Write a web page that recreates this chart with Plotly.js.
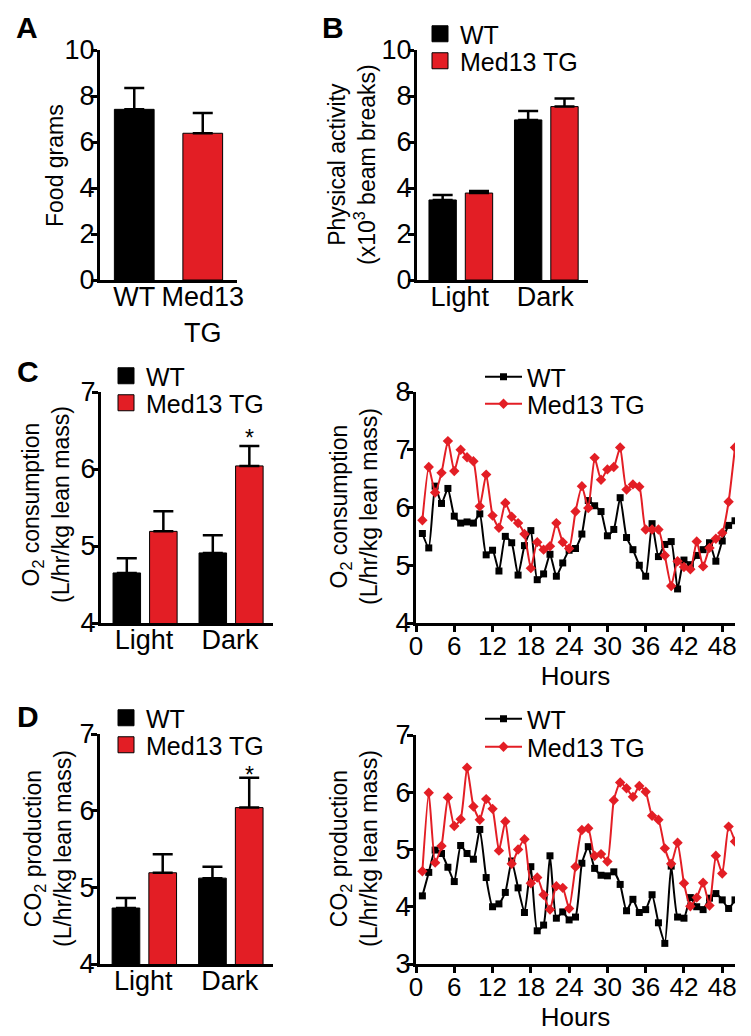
<!DOCTYPE html>
<html>
<head>
<meta charset="utf-8">
<script src="https://cdn.plot.ly/plotly-3.0.1.min.js"></script>
<style>
  html, body { margin: 0; padding: 0; background: #fff; }
  #fig { width: 751px; height: 1036px; }
</style>
</head>
<body>
<div id="fig"></div>
<script>
// groups and colours
const groups = ["WT", "Med13 TG"];
const red = "#e31e25";

// A: food intake
const foodCats = ["WT", "Med13<br>TG"];
const foodMean = [7.42, 6.38];
const foodErr = [0.93, 0.88];

// B: physical activity (x10^3 beam breaks)
const periods = ["Light", "Dark"];
const actWT = [3.48, 6.96];
const actWTErr = [0.22, 0.39];
const actTG = [3.78, 7.54];
const actTGErr = [0.09, 0.35];

// C: O2 consumption bars
const o2WT = [4.65, 4.91];
const o2WTErr = [0.19, 0.23];
const o2TG = [5.19, 6.04];
const o2TGErr = [0.26, 0.26];

// D: CO2 production bars
const co2WT = [4.73, 5.12];
const co2WTErr = [0.13, 0.15];
const co2TG = [5.19, 6.04];
const co2TGErr = [0.24, 0.39];

// hourly traces
const hours = [1, 2, 3, 4, 5, 6, 7, 8, 9, 10, 11, 12, 13, 14, 15, 16, 17, 18, 19, 20,
  21, 22, 23, 24, 25, 26, 27, 28, 29, 30, 31, 32, 33, 34, 35, 36, 37, 38, 39, 40,
  41, 42, 43, 44, 45, 46, 47, 48, 49, 50];

const o2HourWT = [5.55, 5.30, 6.37, 6.07, 6.33, 5.85, 5.73, 5.75, 5.73, 5.89,
  5.18, 5.26, 4.90, 5.50, 5.39, 4.83, 5.34, 5.60, 4.75, 4.85,
  5.19, 4.81, 5.04, 5.26, 5.29, 5.54, 6.12, 6.03, 5.93, 5.51,
  5.62, 6.17, 5.48, 5.27, 5.00, 4.81, 5.72, 5.15, 5.36, 5.41,
  4.59, 5.09, 5.01, 5.17, 5.27, 5.39, 5.07, 5.42, 5.69, 5.77];
const o2HourTG = [5.78, 6.70, 6.26, 6.60, 7.15, 6.63, 7.00, 6.87, 6.80, 6.02,
  6.57, 5.86, 5.65, 6.08, 5.84, 5.73, 5.54, 4.95, 5.40, 5.27,
  5.33, 5.73, 5.40, 5.29, 5.93, 6.37, 5.99, 6.86, 6.48, 6.66,
  6.70, 7.04, 6.31, 6.40, 6.36, 5.62, 5.62, 5.62, 5.17, 4.64,
  5.07, 4.97, 4.93, 5.41, 4.98, 5.30, 5.46, 5.56, 6.10, 7.04];

const co2HourWT = [4.19, 4.60, 4.99, 4.93, 4.69, 4.44, 5.07, 4.93, 4.83, 5.35,
  4.51, 4.00, 4.05, 4.25, 4.80, 4.33, 3.90, 4.70, 3.58, 3.68,
  4.89, 3.80, 3.91, 3.77, 3.82, 4.76, 5.05, 4.67, 4.55, 4.54,
  4.61, 4.39, 3.93, 4.13, 3.90, 3.95, 4.21, 3.72, 3.36, 4.71,
  3.82, 3.80, 4.16, 4.00, 3.95, 4.15, 4.23, 4.12, 3.97, 4.12];
const co2HourTG = [4.62, 5.99, 4.77, 5.06, 5.91, 5.41, 5.53, 6.43, 5.75, 5.52,
  5.88, 5.71, 4.98, 5.49, 4.75, 5.00, 5.18, 4.41, 4.51, 4.21,
  3.95, 4.36, 4.33, 3.97, 4.70, 5.34, 5.37, 4.89, 4.92, 4.79,
  5.86, 6.17, 6.07, 5.92, 6.11, 6.01, 5.59, 5.52, 5.02, 4.75,
  5.12, 4.41, 4.01, 4.16, 4.42, 4.02, 4.89, 4.58, 5.40, 5.14];

const hourTicks = [0, 6, 12, 18, 24, 30, 36, 42, 48];

// page geometry helpers (pixel -> paper)
const W = 751, H = 1036;
const px = v => v / W;
const py = v => 1 - v / H;

const FONT = "Liberation Sans, Arial, Helvetica, sans-serif";

function errBar(arr) {
  return {
    type: "data", array: arr, arrayminus: arr.map(() => 0), symmetric: false,
    color: "black", thickness: 2.5, width: 10
  };
}

function barPair(wt, wtErr, tg, tgErr, xa, ya) {
  return [
    {
      x: periods, y: wt, type: "bar", xaxis: xa, yaxis: ya, showlegend: false,
      offset: -0.36, width: 0.32,
      marker: { color: "black", line: { color: "black", width: 1 } },
      error_y: errBar(wtErr)
    },
    {
      x: periods, y: tg, type: "bar", xaxis: xa, yaxis: ya, showlegend: false,
      offset: 0.065, width: 0.32,
      marker: { color: red, line: { color: "black", width: 1 } },
      error_y: errBar(tgErr)
    }
  ];
}

// legend-only swatches for the bar panels, one legend box per entry
function swatches(xa, ya, legWT, legTG) {
  return [
    {
      x: [null], y: [null], type: "scatter", mode: "markers", name: groups[0],
      xaxis: xa, yaxis: ya, legend: legWT,
      marker: { symbol: "square", size: 17, color: "black", line: { color: "black", width: 1 } }
    },
    {
      x: [null], y: [null], type: "scatter", mode: "markers", name: groups[1],
      xaxis: xa, yaxis: ya, legend: legTG,
      marker: { symbol: "square", size: 17, color: red, line: { color: "black", width: 1 } }
    }
  ];
}

function hourLines(wt, tg, xa, ya, legWT, legTG) {
  return [
    {
      x: hours, y: wt, type: "scatter", mode: "lines+markers", name: groups[0],
      xaxis: xa, yaxis: ya, legend: legWT,
      line: { color: "black", width: 2, shape: "spline", smoothing: 0.5 },
      marker: { symbol: "square", size: 7, color: "black" }
    },
    {
      x: hours, y: tg, type: "scatter", mode: "lines+markers", name: groups[1],
      xaxis: xa, yaxis: ya, legend: legTG,
      line: { color: red, width: 2, shape: "spline", smoothing: 0.5 },
      marker: { symbol: "diamond", size: 8, color: red }
    }
  ];
}

const data = [
  {
    x: foodCats, y: foodMean, type: "bar", xaxis: "x", yaxis: "y", showlegend: false,
    width: 0.58,
    marker: { color: ["black", red], line: { color: "black", width: 1 } },
    error_y: errBar(foodErr)
  },
  ...barPair(actWT, actWTErr, actTG, actTGErr, "x2", "y2"),
  ...swatches("x2", "y2", "legend", "legend2"),
  ...barPair(o2WT, o2WTErr, o2TG, o2TGErr, "x3", "y3"),
  ...swatches("x3", "y3", "legend3", "legend4"),
  ...hourLines(o2HourWT, o2HourTG, "x4", "y4", "legend5", "legend6"),
  ...barPair(co2WT, co2WTErr, co2TG, co2TGErr, "x5", "y5"),
  ...swatches("x5", "y5", "legend7", "legend8"),
  ...hourLines(co2HourWT, co2HourTG, "x6", "y6", "legend9", "legend10")
];

const yTickFont = { family: FONT, size: 27, color: "black" };
const catFont = { family: FONT, size: 27, color: "black" };
const hourFont = { family: FONT, size: 26, color: "black" };

function catAxis(x0, x1, anchor) {
  return {
    domain: [px(x0), px(x1)], anchor: anchor, range: [-0.5, 1.5],
    showline: true, linewidth: 3, linecolor: "black", ticks: "",
    ticklabelstandoff: -9,
    showgrid: false, zeroline: false, tickfont: catFont
  };
}

function hourAxis(x0, x1, anchor, title) {
  return {
    domain: [px(x0), px(x1)], anchor: anchor, range: [0, 50],
    tickvals: hourTicks, showline: true, linewidth: 3, linecolor: "black",
    ticks: "outside", ticklen: 6, tickwidth: 3, tickcolor: "black",
    ticklabelstandoff: -8,
    showgrid: false, zeroline: false, tickfont: hourFont,
    title: { text: title, font: { family: FONT, size: 26, color: "black" }, standoff: 0 }
  };
}

function valAxis(yTop, yBottom, anchor, range, dtick) {
  return {
    domain: [py(yBottom), py(yTop)], anchor: anchor, range: range, dtick: dtick,
    showline: true, linewidth: 3, linecolor: "black",
    ticks: "outside", ticklen: 6, tickwidth: 3, tickcolor: "black",
    ticklabelstandoff: -9,
    showgrid: false, zeroline: false, tickfont: yTickFont
  };
}

const legendFont = { family: FONT, size: 25, color: "black" };
function legendAt(x, yTop, extra) {
  return Object.assign({
    font: legendFont, bgcolor: "rgba(0,0,0,0)", xanchor: "left", yanchor: "top",
    x: px(x), y: py(yTop), itemclick: false, itemdoubleclick: false
  }, extra || {});
}

// y-axis titles, drawn as rotated text beside each axis
const yTitles = [
  { text: "Food grams", x: 55, y: 165 },
  { text: "Physical activity<br>(x10<sup>3</sup> beam breaks)", x: 352, y: 165 },
  { text: "O<sub>2</sub> consumption<br>(L/hr/kg lean mass)", x: 46, y: 505 },
  { text: "O<sub>2</sub> consumption<br>(L/hr/kg lean mass)", x: 354, y: 507 },
  { text: "CO<sub>2</sub> production<br>(L/hr/kg lean mass)", x: 48, y: 849 },
  { text: "CO<sub>2</sub> production<br>(L/hr/kg lean mass)", x: 354, y: 849 }
];

const yTitleAnn = t => ({
  text: t.text, xref: "paper", yref: "paper", x: px(t.x), y: py(t.y),
  xanchor: "center", yanchor: "middle", textangle: -90, showarrow: false,
  font: { family: FONT, size: 23, color: "black" }
});

const panelLabel = (t, x, y) => ({
  text: "<b>" + t + "</b>", xref: "paper", yref: "paper", x: px(x), y: py(y),
  xanchor: "left", yanchor: "middle", showarrow: false,
  font: { family: FONT, size: 30, color: "black" }
});

const star = (xa, ya, yv, shift) => ({
  text: "*", xref: xa, yref: ya, x: 1.225, y: yv, yanchor: "bottom",
  showarrow: false, yshift: shift, font: { family: FONT, size: 23, color: "black" }
});

const layout = {
  width: W, height: H,
  margin: { l: 0, r: 0, t: 0, b: 0 },
  paper_bgcolor: "white", plot_bgcolor: "white",
  font: { family: FONT, color: "black" },
  barmode: "overlay",

  xaxis: catAxis(100, 237, "y"),
  yaxis: valAxis(50, 280, "x", [0, 10], 2),

  xaxis2: catAxis(417, 588, "y2"),
  yaxis2: valAxis(50, 280, "x2", [0, 10], 2),

  xaxis3: catAxis(101, 273, "y3"),
  yaxis3: valAxis(392, 623, "x3", [4, 7], 1),

  xaxis4: hourAxis(416, 735, "y4", "Hours"),
  yaxis4: valAxis(392, 623, "x4", [4, 8], 1),

  xaxis5: catAxis(100, 273, "y5"),
  yaxis5: valAxis(734, 964, "x5", [4, 7], 1),

  xaxis6: hourAxis(416, 735, "y6", "Hours"),
  yaxis6: valAxis(735, 964, "x6", [3, 7], 1),

  legend: legendAt(420, 11),
  legend2: legendAt(420, 38),
  legend3: legendAt(106, 353),
  legend4: legendAt(106, 380),
  legend5: legendAt(480, 354, { itemwidth: 37 }),
  legend6: legendAt(480, 381, { itemwidth: 37 }),
  legend7: legendAt(106, 695),
  legend8: legendAt(106, 722),
  legend9: legendAt(480, 696, { itemwidth: 37 }),
  legend10: legendAt(480, 724, { itemwidth: 37 }),

  annotations: [
    panelLabel("A", 14, 28),
    panelLabel("B", 320, 28),
    panelLabel("C", 15, 372),
    panelLabel("D", 15, 716),
    star("x3", "y3", o2TG[1] + o2TGErr[1], -7),
    star("x5", "y5", co2TG[1] + co2TGErr[1], -12),
    ...yTitles.map(yTitleAnn)
  ]
};

Plotly.newPlot("fig", data, layout, { staticPlot: true, displayModeBar: false });
</script>
</body>
</html>
